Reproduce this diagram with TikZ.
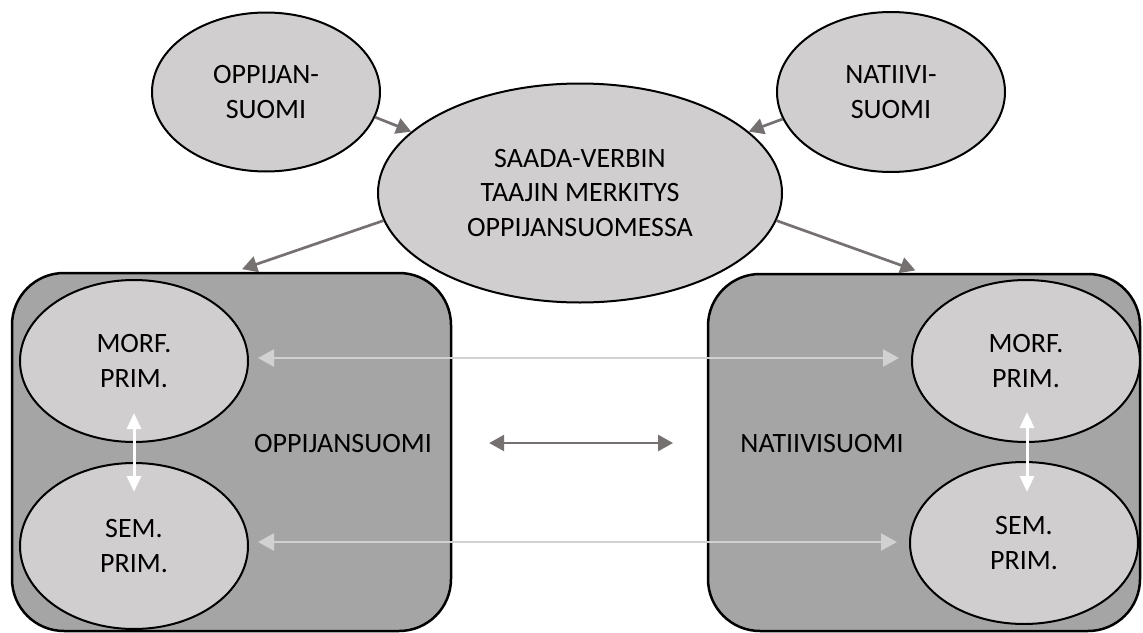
\documentclass[tikz,border=0pt]{standalone}
\usepackage{fontspec}
\setmainfont{Carlito}
\usetikzlibrary{shapes.geometric,arrows.meta}

\definecolor{bubblegray}{RGB}{208,206,207}
\definecolor{panelgray}{RGB}{165,165,165}
\definecolor{darkarrow}{RGB}{118,113,113}
\definecolor{lightarrow}{RGB}{210,209,209}

\tikzset{every picture/.style={line width=0.75pt}}
\tikzset{
  bubble/.style={draw, line width=2pt, fill=bubblegray, ellipse, inner sep=0pt,
    align=center, minimum width=228, minimum height=162},
  panel/.style={draw, line width=2.5pt, fill=panelgray, rounded corners=52,
    inner sep=0pt},
  label/.style={inner sep=0pt},
  darklink/.style={draw=darkarrow, line width=2.7pt,
    -{Triangle[length=15pt,width=16pt]}},
  lightlink/.style={draw=lightarrow, line width=2.4pt,
    {Triangle[length=16pt,width=17pt]}-{Triangle[length=16pt,width=17pt]}},
  whitelink/.style={draw=white, line width=3pt,
    {Triangle[length=16pt,width=14pt]}-{Triangle[length=16pt,width=14pt]}}
}

\begin{document}
\begin{tikzpicture}[x=1pt,y=1pt,yscale=-1,xscale=1,
  every node/.append style={font=\fontsize{28}{34.5}\selectfont}]
\useasboundingbox (0,0) rectangle (1143,632);

% Panels
\node [panel, minimum width=439, minimum height=358] (oppbox) at (231.5,452) {};
\node [panel, minimum width=432, minimum height=357] (natbox) at (924,452.5) {};

% Text Node
\node [bubble] (lmorf) at (134,361) {MORF.\\PRIM.};
\node [bubble, minimum height=166] (lsem) at (134,546) {SEM.\\PRIM.};
\node [bubble] (rmorf) at (1026,361) {MORF.\\PRIM.};
\node [bubble] (rsem) at (1024,543) {SEM.\\PRIM.};
% Text Node
\node [label] (oppl) at (343,444) {OPPIJANSUOMI};
\node [label] (natl) at (822,444) {NATIIVISUOMI};
% Text Node
\node [bubble, minimum height=159] (oppq) at (266,92) {OPPIJAN-\\SUOMI};
\node [bubble, minimum height=160] (natq) at (891,92) {NATIIVI-\\SUOMI};
\node [bubble, minimum width=404, minimum height=219] (saada) at (580,193)
  {SAADA-VERBIN\\TAAJIN MERKITYS\\OPPIJANSUOMESSA};

% Connection
\draw [darklink] (oppq.-13) -- (saada.160);
\draw [darklink] (natq.194) -- (saada.20);
\draw [darklink, shorten >=8pt] (saada.188) -- ([xshift=3]oppbox.north);
\draw [darklink, shorten >=7pt] (saada.352) -- ([xshift=-2]natbox.north);
% Connection
\draw [lightlink, shorten <=9pt, shorten >=12pt] ([yshift=-3]lmorf.east) -- ([yshift=-3]rmorf.west);
\draw [lightlink, shorten <=9pt, shorten >=12pt] ([yshift=-4]lsem.east) -- ([yshift=-1]rsem.west);
% Connection
\draw [whitelink, shorten <=52pt, shorten >=54pt] (lmorf.center) -- (lsem.center);
\draw [whitelink, shorten <=51pt, shorten >=51pt] ([xshift=1]rmorf.center) -- ([xshift=3]rsem.center);
% Connection
\draw [darklink, {Triangle[length=15pt,width=16pt]}-{Triangle[length=15pt,width=16pt]},
  shorten <=57pt, shorten >=67pt] ([yshift=-1]oppl.east) -- ([yshift=-1]natl.west);

\end{tikzpicture}
\end{document}
